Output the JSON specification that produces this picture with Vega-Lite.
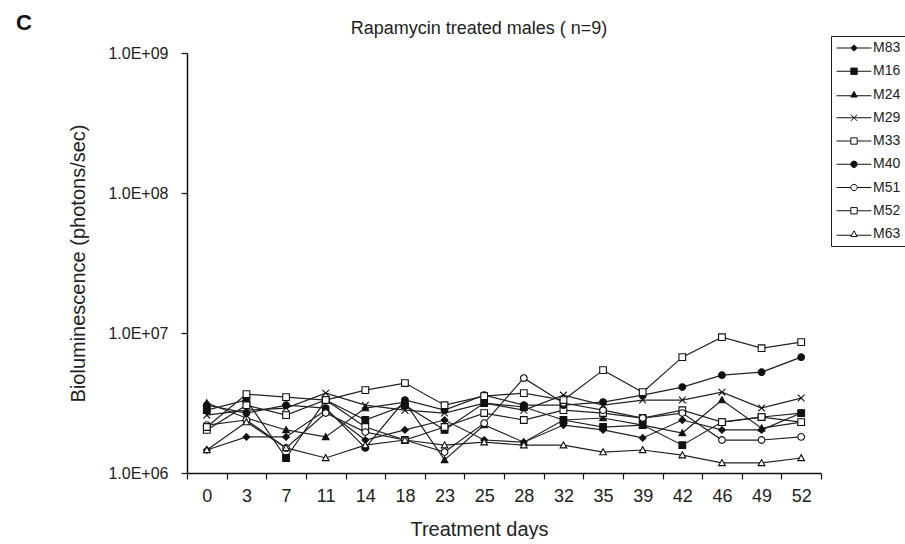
{
  "$schema": "https://vega.github.io/schema/vega-lite/v6.json",
  "background": "white",
  "padding": {"left": 15, "top": 11, "right": 0, "bottom": 0},
  "title": {"text": "C", "anchor": "start", "frame": "bounds", "font": "Liberation Sans", "fontSize": 22, "fontWeight": "bold", "color": "#111", "offset": -15, "dx": -53},
  "datasets": {
    "lum": [
      {"mouse": "M83", "day": 0, "value": 1.46e6}, {"mouse": "M83", "day": 3, "value": 1.81e6}, {"mouse": "M83", "day": 7, "value": 1.81e6}, {"mouse": "M83", "day": 11, "value": 2.81e6}, {"mouse": "M83", "day": 14, "value": 1.72e6}, {"mouse": "M83", "day": 18, "value": 2.03e6}, {"mouse": "M83", "day": 23, "value": 2.39e6}, {"mouse": "M83", "day": 25, "value": 1.72e6}, {"mouse": "M83", "day": 28, "value": 1.66e6}, {"mouse": "M83", "day": 32, "value": 2.20e6}, {"mouse": "M83", "day": 35, "value": 2.03e6}, {"mouse": "M83", "day": 39, "value": 1.78e6}, {"mouse": "M83", "day": 42, "value": 2.39e6}, {"mouse": "M83", "day": 46, "value": 2.03e6}, {"mouse": "M83", "day": 49, "value": 2.03e6}, {"mouse": "M83", "day": 52, "value": 2.68e6},
      {"mouse": "M16", "day": 0, "value": 2.81e6}, {"mouse": "M16", "day": 3, "value": 3.32e6}, {"mouse": "M16", "day": 7, "value": 1.28e6}, {"mouse": "M16", "day": 11, "value": 3.32e6}, {"mouse": "M16", "day": 14, "value": 2.39e6}, {"mouse": "M16", "day": 18, "value": 3.05e6}, {"mouse": "M16", "day": 23, "value": 2.03e6}, {"mouse": "M16", "day": 25, "value": 3.16e6}, {"mouse": "M16", "day": 28, "value": 2.96e6}, {"mouse": "M16", "day": 32, "value": 2.39e6}, {"mouse": "M16", "day": 35, "value": 2.13e6}, {"mouse": "M16", "day": 39, "value": 2.20e6}, {"mouse": "M16", "day": 42, "value": 1.58e6}, {"mouse": "M16", "day": 46, "value": 2.31e6}, {"mouse": "M16", "day": 49, "value": 2.51e6}, {"mouse": "M16", "day": 52, "value": 2.68e6},
      {"mouse": "M24", "day": 0, "value": 3.16e6}, {"mouse": "M24", "day": 3, "value": 2.47e6}, {"mouse": "M24", "day": 7, "value": 2.03e6}, {"mouse": "M24", "day": 11, "value": 1.81e6}, {"mouse": "M24", "day": 14, "value": 2.91e6}, {"mouse": "M24", "day": 18, "value": 3.21e6}, {"mouse": "M24", "day": 23, "value": 1.24e6}, {"mouse": "M24", "day": 25, "value": 2.20e6}, {"mouse": "M24", "day": 28, "value": 1.66e6}, {"mouse": "M24", "day": 32, "value": 2.39e6}, {"mouse": "M24", "day": 35, "value": 2.47e6}, {"mouse": "M24", "day": 39, "value": 2.20e6}, {"mouse": "M24", "day": 42, "value": 1.93e6}, {"mouse": "M24", "day": 46, "value": 3.32e6}, {"mouse": "M24", "day": 49, "value": 2.09e6}, {"mouse": "M24", "day": 52, "value": 2.31e6},
      {"mouse": "M29", "day": 0, "value": 2.59e6}, {"mouse": "M29", "day": 3, "value": 2.81e6}, {"mouse": "M29", "day": 7, "value": 2.91e6}, {"mouse": "M29", "day": 11, "value": 3.72e6}, {"mouse": "M29", "day": 14, "value": 3.05e6}, {"mouse": "M29", "day": 18, "value": 2.81e6}, {"mouse": "M29", "day": 23, "value": 2.68e6}, {"mouse": "M29", "day": 25, "value": 3.16e6}, {"mouse": "M29", "day": 28, "value": 2.81e6}, {"mouse": "M29", "day": 32, "value": 3.60e6}, {"mouse": "M29", "day": 35, "value": 3.05e6}, {"mouse": "M29", "day": 39, "value": 3.32e6}, {"mouse": "M29", "day": 42, "value": 3.32e6}, {"mouse": "M29", "day": 46, "value": 3.78e6}, {"mouse": "M29", "day": 49, "value": 2.91e6}, {"mouse": "M29", "day": 52, "value": 3.43e6},
      {"mouse": "M33", "day": 0, "value": 2.03e6}, {"mouse": "M33", "day": 3, "value": 3.05e6}, {"mouse": "M33", "day": 7, "value": 2.59e6}, {"mouse": "M33", "day": 11, "value": 3.32e6}, {"mouse": "M33", "day": 14, "value": 2.13e6}, {"mouse": "M33", "day": 18, "value": 1.72e6}, {"mouse": "M33", "day": 23, "value": 2.13e6}, {"mouse": "M33", "day": 25, "value": 2.68e6}, {"mouse": "M33", "day": 28, "value": 2.39e6}, {"mouse": "M33", "day": 32, "value": 2.81e6}, {"mouse": "M33", "day": 35, "value": 2.68e6}, {"mouse": "M33", "day": 39, "value": 2.47e6}, {"mouse": "M33", "day": 42, "value": 2.81e6}, {"mouse": "M33", "day": 46, "value": 2.31e6}, {"mouse": "M33", "day": 49, "value": 2.51e6}, {"mouse": "M33", "day": 52, "value": 2.31e6},
      {"mouse": "M40", "day": 0, "value": 3.05e6}, {"mouse": "M40", "day": 3, "value": 2.68e6}, {"mouse": "M40", "day": 7, "value": 3.05e6}, {"mouse": "M40", "day": 11, "value": 2.91e6}, {"mouse": "M40", "day": 14, "value": 1.51e6}, {"mouse": "M40", "day": 18, "value": 3.32e6}, {"mouse": "M40", "day": 23, "value": 2.81e6}, {"mouse": "M40", "day": 25, "value": 3.60e6}, {"mouse": "M40", "day": 28, "value": 3.05e6}, {"mouse": "M40", "day": 32, "value": 3.05e6}, {"mouse": "M40", "day": 35, "value": 3.21e6}, {"mouse": "M40", "day": 39, "value": 3.60e6}, {"mouse": "M40", "day": 42, "value": 4.11e6}, {"mouse": "M40", "day": 46, "value": 5.00e6}, {"mouse": "M40", "day": 49, "value": 5.25e6}, {"mouse": "M40", "day": 52, "value": 6.72e6},
      {"mouse": "M51", "day": 0, "value": 2.20e6}, {"mouse": "M51", "day": 3, "value": 2.39e6}, {"mouse": "M51", "day": 7, "value": 1.51e6}, {"mouse": "M51", "day": 11, "value": 2.68e6}, {"mouse": "M51", "day": 14, "value": 1.96e6}, {"mouse": "M51", "day": 18, "value": 1.72e6}, {"mouse": "M51", "day": 23, "value": 1.41e6}, {"mouse": "M51", "day": 25, "value": 2.27e6}, {"mouse": "M51", "day": 28, "value": 4.76e6}, {"mouse": "M51", "day": 32, "value": 3.16e6}, {"mouse": "M51", "day": 35, "value": 2.81e6}, {"mouse": "M51", "day": 39, "value": 2.47e6}, {"mouse": "M51", "day": 42, "value": 2.68e6}, {"mouse": "M51", "day": 46, "value": 1.72e6}, {"mouse": "M51", "day": 49, "value": 1.72e6}, {"mouse": "M51", "day": 52, "value": 1.81e6},
      {"mouse": "M52", "day": 0, "value": 2.13e6}, {"mouse": "M52", "day": 3, "value": 3.66e6}, {"mouse": "M52", "day": 7, "value": 3.48e6}, {"mouse": "M52", "day": 11, "value": 3.32e6}, {"mouse": "M52", "day": 14, "value": 3.91e6}, {"mouse": "M52", "day": 18, "value": 4.39e6}, {"mouse": "M52", "day": 23, "value": 3.05e6}, {"mouse": "M52", "day": 25, "value": 3.54e6}, {"mouse": "M52", "day": 28, "value": 3.72e6}, {"mouse": "M52", "day": 32, "value": 3.32e6}, {"mouse": "M52", "day": 35, "value": 5.43e6}, {"mouse": "M52", "day": 39, "value": 3.78e6}, {"mouse": "M52", "day": 42, "value": 6.72e6}, {"mouse": "M52", "day": 46, "value": 9.33e6}, {"mouse": "M52", "day": 49, "value": 7.79e6}, {"mouse": "M52", "day": 52, "value": 8.60e6},
      {"mouse": "M63", "day": 0, "value": 1.46e6}, {"mouse": "M63", "day": 3, "value": 2.31e6}, {"mouse": "M63", "day": 7, "value": 1.51e6}, {"mouse": "M63", "day": 11, "value": 1.28e6}, {"mouse": "M63", "day": 14, "value": 1.58e6}, {"mouse": "M63", "day": 18, "value": 1.72e6}, {"mouse": "M63", "day": 23, "value": 1.58e6}, {"mouse": "M63", "day": 25, "value": 1.66e6}, {"mouse": "M63", "day": 28, "value": 1.58e6}, {"mouse": "M63", "day": 32, "value": 1.58e6}, {"mouse": "M63", "day": 35, "value": 1.41e6}, {"mouse": "M63", "day": 39, "value": 1.46e6}, {"mouse": "M63", "day": 42, "value": 1.34e6}, {"mouse": "M63", "day": 46, "value": 1.18e6}, {"mouse": "M63", "day": 49, "value": 1.18e6}, {"mouse": "M63", "day": 52, "value": 1.28e6}
    ]
  },
  "vconcat": [
    {
      "width": 634,
      "height": 420,
      "title": {"text": "Rapamycin treated males ( n=9)", "anchor": "middle", "font": "Liberation Sans", "fontSize": 18, "fontWeight": "normal", "color": "#222", "dx": -25, "offset": -2},
      "data": {"name": "lum"},
      "encoding": {
        "x": {
          "field": "day", "type": "ordinal",
          "scale": {"type": "band", "paddingInner": 0, "paddingOuter": 0},
          "axis": {"title": "Treatment days", "labelAngle": 0, "tickBand": "extent", "tickSize": 6, "labelPadding": 8, "labelFontSize": 18, "titleFontSize": 20, "titlePadding": 14, "titleX": 292}
        },
        "y": {
          "field": "value", "type": "quantitative",
          "scale": {"type": "log", "domain": [1000000, 1000000000], "nice": false},
          "axis": {"title": "Bioluminescence (photons/sec)", "values": [1000000, 10000000, 100000000, 1000000000], "labelExpr": "'1.0E+0' + round(log(datum.value)/LN10)", "grid": false, "tickSize": 6, "labelPadding": 13, "labelFont": "Liberation Sans", "labelFontSize": 16, "titleFontSize": 20, "titlePadding": 19}
        }
      },
      "resolve": {"scale": {"shape": "independent", "fill": "independent"}, "legend": {"shape": "independent", "fill": "independent"}},
      "layer": [
        {
          "mark": {"type": "line", "stroke": "#222", "strokeWidth": 1.2},
          "encoding": {"detail": {"field": "mouse", "type": "nominal"}}
        },
        {
          "mark": {"type": "point", "stroke": "#111", "strokeWidth": 1.1, "size": 45, "opacity": 1},
          "encoding": {
            "shape": {
              "field": "mouse", "type": "nominal",
              "scale": {
                "domain": ["M83", "M16", "M24", "M29", "M33", "M40", "M51", "M52", "M63"],
                "range": ["M0,-1L1,0L0,1L-1,0Z", "M-1,-1H1V1H-1Z", "M0,-1L1,0.8H-1Z", "M-1,-1L1,1M-1,1L1,-1", "M-1,-1H1V1H-1Z", "M1,0A1,1,0,1,1,-1,0A1,1,0,1,1,1,0Z", "M1,0A1,1,0,1,1,-1,0A1,1,0,1,1,1,0Z", "M-1,-1H1V1H-1Z", "M0,-1L1,0.8H-1Z"]
              },
              "legend": null
            },
            "fill": {
              "field": "mouse", "type": "nominal",
              "scale": {
                "domain": ["M83", "M16", "M24", "M29", "M33", "M40", "M51", "M52", "M63"],
                "range": ["#111", "#111", "#111", "#111", "white", "#111", "white", "white", "white"]
              },
              "legend": null
            }
          }
        },
        {
          "transform": [{"filter": "false"}],
          "mark": {"type": "point", "stroke": "#111", "strokeWidth": 1, "size": 40, "opacity": 1},
          "encoding": {
            "shape": {
              "field": "mouse", "type": "nominal",
              "scale": {
                "domain": ["M83", "M16", "M24", "M29", "M33", "M40", "M51", "M52", "M63"],
                "range": ["M-5.5,0H-1M1,0H5.5M0,-1L1,0L0,1L-1,0Z", "M-5.5,0H-1M1,0H5.5M-1,-1H1V1H-1Z", "M-5.5,0.4H-0.8M0.8,0.4H5.5M0,-1L1,0.8H-1Z", "M-5.5,0H5.5M-1,-1L1,1M-1,1L1,-1", "M-5.5,0H-1M1,0H5.5M-1,-1H1V1H-1Z", "M-5.5,0H-1M1,0H5.5M1,0A1,1,0,1,1,-1,0A1,1,0,1,1,1,0Z", "M-5.5,0H-1M1,0H5.5M1,0A1,1,0,1,1,-1,0A1,1,0,1,1,1,0Z", "M-5.5,0H-1M1,0H5.5M-1,-1H1V1H-1Z", "M-5.5,0.4H-0.8M0.8,0.4H5.5M0,-1L1,0.8H-1Z"]
              },
              "legend": {
                "title": null, "orient": "none", "legendX": 644, "legendY": -17,
                "strokeColor": "#222", "padding": 5, "symbolOffset": 11, "labelOffset": 12, "rowPadding": 9.25,
                "symbolSize": 40, "labelFont": "Liberation Sans", "labelFontSize": 14, "labelColor": "#222",
                "encoding": {"symbols": {"stroke": {"value": "#111"}, "strokeWidth": {"value": 1}}}
              }
            },
            "fill": {
              "field": "mouse", "type": "nominal",
              "scale": {
                "domain": ["M83", "M16", "M24", "M29", "M33", "M40", "M51", "M52", "M63"],
                "range": ["#111", "#111", "#111", "#111", "white", "#111", "white", "white", "white"]
              },
              "legend": {
                "title": null, "orient": "none", "legendX": 644, "legendY": -17,
                "strokeColor": "#222", "padding": 5, "symbolOffset": 11, "labelOffset": 12, "rowPadding": 9.25,
                "symbolSize": 40, "labelFont": "Liberation Sans", "labelFontSize": 14, "labelColor": "#222",
                "encoding": {"symbols": {"stroke": {"value": "#111"}, "strokeWidth": {"value": 1}}}
              }
            }
          }
        }
      ]
    }
  ],
  "config": {
    "view": {"stroke": null},
    "axis": {
      "domainColor": "#111", "domainWidth": 1.5, "tickColor": "#111", "tickWidth": 1.2,
      "labelColor": "#222", "titleColor": "#222",
      "labelFont": "Liberation Sans",
      "titleFont": "Liberation Sans",
      "titleFontWeight": "normal"
    }
  }
}
